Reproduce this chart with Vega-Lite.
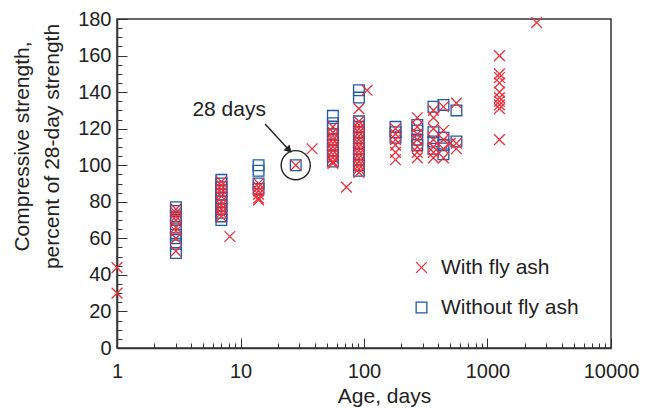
{
  "$schema": "https://vega.github.io/schema/vega-lite/v6.json",
  "width": 494,
  "height": 329,
  "autosize": {"type": "none"},
  "padding": {"left": 117, "top": 19, "right": 41, "bottom": 60},
  "background": "white",
  "config": {
    "font": "Liberation Sans",
    "view": {"stroke": "#333333", "strokeWidth": 1.5},
    "axis": {
      "domainColor": "#333333",
      "domainWidth": 1.5,
      "tickColor": "#333333",
      "tickWidth": 1,
      "grid": false,
      "labelFont": "Liberation Sans",
      "labelFontSize": 20,
      "labelColor": "#222",
      "titleFont": "Liberation Sans",
      "titleFontSize": 21,
      "titleFontWeight": "normal",
      "titleColor": "#222",
      "labelOverlap": false,
      "labelFlush": false
    },
    "legend": {
      "labelFont": "Liberation Sans",
      "labelFontSize": 21,
      "labelColor": "#222"
    }
  },
  "resolve": {"axis": {"x": "independent", "y": "independent"}},
  "datasets": {
    "pts": [
      {"age": 3, "strength": 77, "type": "Without fly ash"},
      {"age": 3, "strength": 75, "type": "Without fly ash"},
      {"age": 3, "strength": 72, "type": "Without fly ash"},
      {"age": 3, "strength": 70, "type": "Without fly ash"},
      {"age": 3, "strength": 65, "type": "Without fly ash"},
      {"age": 3, "strength": 62, "type": "Without fly ash"},
      {"age": 3, "strength": 60, "type": "Without fly ash"},
      {"age": 3, "strength": 57, "type": "Without fly ash"},
      {"age": 3, "strength": 52, "type": "Without fly ash"},
      {"age": 7, "strength": 92, "type": "Without fly ash"},
      {"age": 7, "strength": 90, "type": "Without fly ash"},
      {"age": 7, "strength": 88, "type": "Without fly ash"},
      {"age": 7, "strength": 86, "type": "Without fly ash"},
      {"age": 7, "strength": 84, "type": "Without fly ash"},
      {"age": 7, "strength": 82, "type": "Without fly ash"},
      {"age": 7, "strength": 80, "type": "Without fly ash"},
      {"age": 7, "strength": 78, "type": "Without fly ash"},
      {"age": 7, "strength": 76, "type": "Without fly ash"},
      {"age": 7, "strength": 74, "type": "Without fly ash"},
      {"age": 7, "strength": 72, "type": "Without fly ash"},
      {"age": 7, "strength": 70, "type": "Without fly ash"},
      {"age": 14, "strength": 100, "type": "Without fly ash"},
      {"age": 14, "strength": 97, "type": "Without fly ash"},
      {"age": 14, "strength": 90, "type": "Without fly ash"},
      {"age": 14, "strength": 87, "type": "Without fly ash"},
      {"age": 28, "strength": 100, "type": "Without fly ash"},
      {"age": 56, "strength": 127, "type": "Without fly ash"},
      {"age": 56, "strength": 123, "type": "Without fly ash"},
      {"age": 56, "strength": 120, "type": "Without fly ash"},
      {"age": 56, "strength": 117, "type": "Without fly ash"},
      {"age": 56, "strength": 114, "type": "Without fly ash"},
      {"age": 56, "strength": 111, "type": "Without fly ash"},
      {"age": 56, "strength": 108, "type": "Without fly ash"},
      {"age": 56, "strength": 105, "type": "Without fly ash"},
      {"age": 56, "strength": 102, "type": "Without fly ash"},
      {"age": 91, "strength": 141, "type": "Without fly ash"},
      {"age": 91, "strength": 137, "type": "Without fly ash"},
      {"age": 91, "strength": 124, "type": "Without fly ash"},
      {"age": 91, "strength": 121, "type": "Without fly ash"},
      {"age": 91, "strength": 118, "type": "Without fly ash"},
      {"age": 91, "strength": 115, "type": "Without fly ash"},
      {"age": 91, "strength": 112, "type": "Without fly ash"},
      {"age": 91, "strength": 109, "type": "Without fly ash"},
      {"age": 91, "strength": 106, "type": "Without fly ash"},
      {"age": 91, "strength": 103, "type": "Without fly ash"},
      {"age": 91, "strength": 100, "type": "Without fly ash"},
      {"age": 91, "strength": 97, "type": "Without fly ash"},
      {"age": 180, "strength": 121, "type": "Without fly ash"},
      {"age": 180, "strength": 118, "type": "Without fly ash"},
      {"age": 180, "strength": 115, "type": "Without fly ash"},
      {"age": 270, "strength": 122, "type": "Without fly ash"},
      {"age": 270, "strength": 119, "type": "Without fly ash"},
      {"age": 270, "strength": 114, "type": "Without fly ash"},
      {"age": 270, "strength": 111, "type": "Without fly ash"},
      {"age": 365, "strength": 132, "type": "Without fly ash"},
      {"age": 365, "strength": 118, "type": "Without fly ash"},
      {"age": 365, "strength": 113, "type": "Without fly ash"},
      {"age": 365, "strength": 109, "type": "Without fly ash"},
      {"age": 440, "strength": 133, "type": "Without fly ash"},
      {"age": 440, "strength": 115, "type": "Without fly ash"},
      {"age": 440, "strength": 111, "type": "Without fly ash"},
      {"age": 440, "strength": 106, "type": "Without fly ash"},
      {"age": 560, "strength": 130, "type": "Without fly ash"},
      {"age": 560, "strength": 113, "type": "Without fly ash"},
      {"age": 1, "strength": 44, "type": "With fly ash"},
      {"age": 1, "strength": 30, "type": "With fly ash"},
      {"age": 3, "strength": 76, "type": "With fly ash"},
      {"age": 3, "strength": 74, "type": "With fly ash"},
      {"age": 3, "strength": 72, "type": "With fly ash"},
      {"age": 3, "strength": 70, "type": "With fly ash"},
      {"age": 3, "strength": 66, "type": "With fly ash"},
      {"age": 3, "strength": 64, "type": "With fly ash"},
      {"age": 3, "strength": 60, "type": "With fly ash"},
      {"age": 3, "strength": 53, "type": "With fly ash"},
      {"age": 7, "strength": 91, "type": "With fly ash"},
      {"age": 7, "strength": 89, "type": "With fly ash"},
      {"age": 7, "strength": 87, "type": "With fly ash"},
      {"age": 7, "strength": 85, "type": "With fly ash"},
      {"age": 7, "strength": 83, "type": "With fly ash"},
      {"age": 7, "strength": 80, "type": "With fly ash"},
      {"age": 7, "strength": 78, "type": "With fly ash"},
      {"age": 7, "strength": 76, "type": "With fly ash"},
      {"age": 7, "strength": 74, "type": "With fly ash"},
      {"age": 7, "strength": 72, "type": "With fly ash"},
      {"age": 8.2, "strength": 61, "type": "With fly ash"},
      {"age": 14, "strength": 90, "type": "With fly ash"},
      {"age": 14, "strength": 88, "type": "With fly ash"},
      {"age": 14, "strength": 86, "type": "With fly ash"},
      {"age": 14, "strength": 84, "type": "With fly ash"},
      {"age": 14, "strength": 82, "type": "With fly ash"},
      {"age": 14, "strength": 81, "type": "With fly ash"},
      {"age": 28, "strength": 100, "type": "With fly ash"},
      {"age": 38, "strength": 109, "type": "With fly ash"},
      {"age": 56, "strength": 121, "type": "With fly ash"},
      {"age": 56, "strength": 118, "type": "With fly ash"},
      {"age": 56, "strength": 116, "type": "With fly ash"},
      {"age": 56, "strength": 114, "type": "With fly ash"},
      {"age": 56, "strength": 112, "type": "With fly ash"},
      {"age": 56, "strength": 110, "type": "With fly ash"},
      {"age": 56, "strength": 108, "type": "With fly ash"},
      {"age": 56, "strength": 106, "type": "With fly ash"},
      {"age": 56, "strength": 104, "type": "With fly ash"},
      {"age": 56, "strength": 102, "type": "With fly ash"},
      {"age": 56, "strength": 101, "type": "With fly ash"},
      {"age": 72, "strength": 88, "type": "With fly ash"},
      {"age": 91, "strength": 131, "type": "With fly ash"},
      {"age": 91, "strength": 124, "type": "With fly ash"},
      {"age": 91, "strength": 122, "type": "With fly ash"},
      {"age": 91, "strength": 120, "type": "With fly ash"},
      {"age": 91, "strength": 118, "type": "With fly ash"},
      {"age": 91, "strength": 116, "type": "With fly ash"},
      {"age": 91, "strength": 114, "type": "With fly ash"},
      {"age": 91, "strength": 112, "type": "With fly ash"},
      {"age": 91, "strength": 110, "type": "With fly ash"},
      {"age": 91, "strength": 108, "type": "With fly ash"},
      {"age": 91, "strength": 106, "type": "With fly ash"},
      {"age": 91, "strength": 104, "type": "With fly ash"},
      {"age": 91, "strength": 102, "type": "With fly ash"},
      {"age": 91, "strength": 100, "type": "With fly ash"},
      {"age": 91, "strength": 98, "type": "With fly ash"},
      {"age": 91, "strength": 96, "type": "With fly ash"},
      {"age": 106, "strength": 141, "type": "With fly ash"},
      {"age": 180, "strength": 120, "type": "With fly ash"},
      {"age": 180, "strength": 117, "type": "With fly ash"},
      {"age": 180, "strength": 114, "type": "With fly ash"},
      {"age": 180, "strength": 111, "type": "With fly ash"},
      {"age": 180, "strength": 107, "type": "With fly ash"},
      {"age": 180, "strength": 103, "type": "With fly ash"},
      {"age": 270, "strength": 126, "type": "With fly ash"},
      {"age": 270, "strength": 121, "type": "With fly ash"},
      {"age": 270, "strength": 117, "type": "With fly ash"},
      {"age": 270, "strength": 114, "type": "With fly ash"},
      {"age": 270, "strength": 110, "type": "With fly ash"},
      {"age": 270, "strength": 107, "type": "With fly ash"},
      {"age": 270, "strength": 104, "type": "With fly ash"},
      {"age": 365, "strength": 130, "type": "With fly ash"},
      {"age": 365, "strength": 126, "type": "With fly ash"},
      {"age": 365, "strength": 120, "type": "With fly ash"},
      {"age": 365, "strength": 114, "type": "With fly ash"},
      {"age": 365, "strength": 110, "type": "With fly ash"},
      {"age": 365, "strength": 107, "type": "With fly ash"},
      {"age": 365, "strength": 104, "type": "With fly ash"},
      {"age": 440, "strength": 132, "type": "With fly ash"},
      {"age": 440, "strength": 119, "type": "With fly ash"},
      {"age": 440, "strength": 114, "type": "With fly ash"},
      {"age": 440, "strength": 109, "type": "With fly ash"},
      {"age": 440, "strength": 104, "type": "With fly ash"},
      {"age": 500, "strength": 112, "type": "With fly ash"},
      {"age": 560, "strength": 134, "type": "With fly ash"},
      {"age": 560, "strength": 112, "type": "With fly ash"},
      {"age": 560, "strength": 109, "type": "With fly ash"},
      {"age": 1250, "strength": 160, "type": "With fly ash"},
      {"age": 1250, "strength": 150, "type": "With fly ash"},
      {"age": 1250, "strength": 148, "type": "With fly ash"},
      {"age": 1250, "strength": 145, "type": "With fly ash"},
      {"age": 1250, "strength": 140, "type": "With fly ash"},
      {"age": 1250, "strength": 137, "type": "With fly ash"},
      {"age": 1250, "strength": 135, "type": "With fly ash"},
      {"age": 1250, "strength": 133, "type": "With fly ash"},
      {"age": 1250, "strength": 131, "type": "With fly ash"},
      {"age": 1250, "strength": 114, "type": "With fly ash"},
      {"age": 2500, "strength": 178, "type": "With fly ash"}
    ],
    "note": [
      {"age": 8.1, "strength": 130, "label": "28 days"}
    ],
    "arrow": [
      {"age": 15.8, "strength": 122.5},
      {"age": 24.7, "strength": 108.3}
    ],
    "head": [
      {"age": 24.7, "strength": 108.3}
    ],
    "ring": [
      {"age": 28, "strength": 100}
    ]
  },
  "layer": [
    {
      "data": {"name": "pts"},
      "mark": {"type": "point", "filled": false, "strokeWidth": 1.3, "size": 115, "opacity": 1},
      "encoding": {
        "x": {
          "field": "age", "type": "quantitative",
          "scale": {"type": "log", "domain": [1, 10000]},
          "axis": {
            "orient": "bottom",
            "title": "Age, days",
            "titleX": 267,
            "titleY": 54,
            "titleBaseline": "alphabetic",
            "values": [1, 10, 100, 1000, 10000],
            "labelExpr": "toString(datum.value)",
            "tickSize": -10,
            "labelPadding": 23,
            "labelOverlap": false
          }
        },
        "y": {
          "field": "strength", "type": "quantitative",
          "scale": {"domain": [0, 180]},
          "axis": {
            "orient": "left",
            "title": ["Compressive strength,", "percent of 28-day strength"],
            "titleX": -89,
            "titleY": 127,
            "titleAngle": -90,
            "titleAlign": "center",
            "titleBaseline": "alphabetic",
            "titleLineHeight": 30,
            "values": [0, 20, 40, 60, 80, 100, 120, 140, 160, 180],
            "tickSize": -10,
            "labelPadding": 16,
            "labelOverlap": false
          }
        },
        "shape": {
          "field": "type", "type": "nominal",
          "scale": {"domain": ["With fly ash", "Without fly ash"], "range": ["M-1,-1L1,1M-1,1L1,-1", "square"]},
          "legend": {"title": null, "orient": "none", "legendX": 294, "legendY": 238, "rowPadding": 18, "symbolSize": 115, "symbolStrokeWidth": 1.3, "labelOffset": 9}
        },
        "color": {
          "field": "type", "type": "nominal",
          "scale": {"domain": ["With fly ash", "Without fly ash"], "range": ["#ec2f3b", "#1d5aa5"]},
          "legend": {"title": null, "orient": "none", "legendX": 294, "legendY": 238, "rowPadding": 18, "symbolSize": 115, "symbolStrokeWidth": 1.3, "labelOffset": 9}
        }
      }
    },
    {
      "data": {"name": "ring"},
      "mark": {"type": "point", "shape": "circle", "filled": false, "size": 850, "stroke": "#222", "strokeWidth": 1.4, "opacity": 1},
      "encoding": {
        "x": {
          "field": "age", "type": "quantitative",
          "axis": {
            "orient": "bottom",
            "title": null,
            "domain": false,
            "labels": false,
            "values": [2,3,4,5,6,7,8,9,20,30,40,50,60,70,80,90,200,300,400,500,600,700,800,900,2000,3000,4000,5000,6000,7000,8000,9000],
            "tickSize": -5
          }
        },
        "y": {
          "field": "strength", "type": "quantitative",
          "axis": {
            "orient": "left",
            "title": null,
            "domain": false,
            "labels": false,
            "values": [5,10,15,25,30,35,45,50,55,65,70,75,85,90,95,105,110,115,125,130,135,145,150,155,165,170,175],
            "tickSize": -5
          }
        }
      }
    },
    {
      "data": {"name": "arrow"},
      "mark": {"type": "line", "color": "#222", "strokeWidth": 1.4},
      "encoding": {
        "x": {"field": "age", "type": "quantitative", "axis": null},
        "y": {"field": "strength", "type": "quantitative", "axis": null}
      }
    },
    {
      "data": {"name": "head"},
      "mark": {"type": "point", "shape": "triangle-up", "filled": true, "size": 70, "color": "#222", "angle": 137, "opacity": 1},
      "encoding": {
        "x": {"field": "age", "type": "quantitative", "axis": null},
        "y": {"field": "strength", "type": "quantitative", "axis": null}
      }
    },
    {
      "data": {"name": "note"},
      "mark": {"type": "text", "font": "Liberation Sans", "fontSize": 21, "color": "#222"},
      "encoding": {
        "x": {"field": "age", "type": "quantitative", "axis": null},
        "y": {"field": "strength", "type": "quantitative", "axis": null},
        "text": {"field": "label"}
      }
    }
  ]
}
